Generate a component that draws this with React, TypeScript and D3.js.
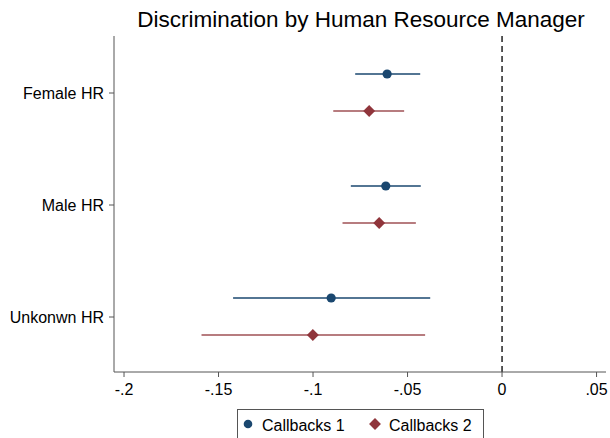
import * as d3 from 'd3';

const WIDTH = 610;
const HEIGHT = 438;

const groups = ['Female HR', 'Male HR', 'Unkonwn HR'];
const seriesNames = ['Callbacks 1', 'Callbacks 2'];
const COLORS = ['#1a476f', '#90353b'];

// point estimate, lower, upper
const cb1Est = [-0.0608, -0.0615, -0.0904];
const cb1Lo = [-0.0777, -0.080, -0.1423];
const cb1Hi = [-0.0433, -0.043, -0.038];
const cb2Est = [-0.0703, -0.065, -0.1001];
const cb2Lo = [-0.0893, -0.0844, -0.159];
const cb2Hi = [-0.0518, -0.0456, -0.0407];

const xTicks = [-0.2, -0.15, -0.1, -0.05, 0, 0.05];
const xTickLabels = ['-.2', '-.15', '-.1', '-.05', '0', '.05'];

const FONT = 'Liberation Sans, Arial, sans-serif';

export default function App() {
  const left = 114;
  const right = 606;
  const top = 36;
  const bottom = 372;

  const x = d3.scaleLinear().domain([-0.2053, 0.055]).range([left, right]);
  const y = d3.scalePoint<string>().domain(groups).range([93, 317]);
  const offsets = [-19, 18];

  const series = [
    { est: cb1Est, lo: cb1Lo, hi: cb1Hi },
    { est: cb2Est, lo: cb2Lo, hi: cb2Hi },
  ];

  const diamond = d3.symbol().type(d3.symbolDiamond2).size(90)();

  return (
    <svg width={WIDTH} height={HEIGHT} style={{ position: 'absolute', left: 0, top: 0 }}>
      <rect width={WIDTH} height={HEIGHT} fill="#fff" />
      <text x={361} y={27} textAnchor="middle" fontSize={22.5} fontFamily={FONT} fill="#000">
        Discrimination by Human Resource Manager
      </text>

      {/* zero line */}
      <line x1={x(0)} x2={x(0)} y1={top} y2={bottom} stroke="#000" strokeWidth={1.3} strokeDasharray="6,4" />

      {/* axes */}
      <line x1={left} x2={left} y1={top} y2={bottom} stroke="#555" strokeWidth={1} />
      <line x1={left} x2={right} y1={bottom} y2={bottom} stroke="#555" strokeWidth={1} />

      {groups.map((g) => (
        <g key={g}>
          <line x1={left - 5} x2={left} y1={y(g)!} y2={y(g)!} stroke="#555" />
          <text x={left - 10} y={y(g)!} dy="0.35em" textAnchor="end" fontSize={16} fontFamily={FONT} fill="#000">
            {g}
          </text>
        </g>
      ))}

      {xTicks.map((t, i) => (
        <g key={t}>
          <line x1={x(t)} x2={x(t)} y1={bottom} y2={bottom + 5} stroke="#555" />
          <text x={x(t)} y={bottom + 23} textAnchor="middle" fontSize={16} fontFamily={FONT} fill="#000">
            {xTickLabels[i]}
          </text>
        </g>
      ))}

      {series.map((s, si) =>
        groups.map((g, gi) => {
          const yy = y(g)! + offsets[si];
          return (
            <g key={si + '-' + g}>
              <line
                x1={x(s.lo[gi])}
                x2={x(s.hi[gi])}
                y1={yy}
                y2={yy}
                stroke={COLORS[si]}
                strokeOpacity={si === 0 ? 0.75 : 0.65}
                strokeWidth={2}
              />
              {si === 0 ? (
                <circle cx={x(s.est[gi])} cy={yy} r={4.6} fill={COLORS[si]} />
              ) : (
                <path d={diamond!} transform={`translate(${x(s.est[gi])},${yy})`} fill={COLORS[si]} />
              )}
            </g>
          );
        })
      )}

      {/* legend */}
      <rect x={237.5} y={409.5} width={246} height={34} fill="#fff" stroke="#555" />
      <circle cx={248} cy={424} r={4.3} fill={COLORS[0]} />
      <text x={262} y={425} dy="0.35em" fontSize={16} fontFamily={FONT}>{seriesNames[0]}</text>
      <path d={diamond!} transform="translate(375,424)" fill={COLORS[1]} />
      <text x={389} y={425} dy="0.35em" fontSize={16} fontFamily={FONT}>{seriesNames[1]}</text>
    </svg>
  );
}
